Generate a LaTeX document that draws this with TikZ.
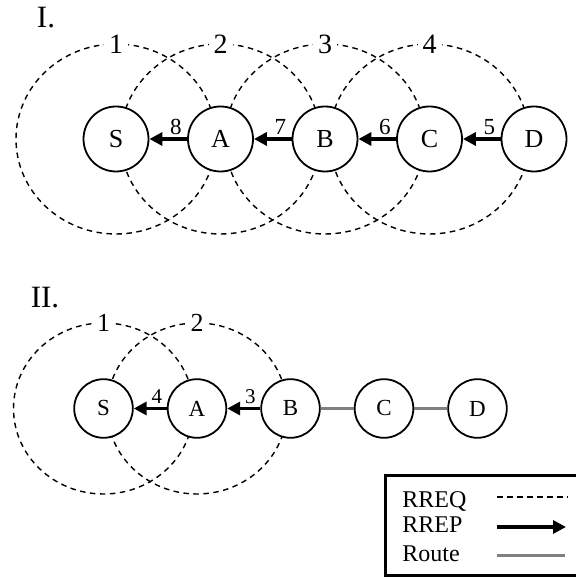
\documentclass[tikz,border=0pt]{standalone}
\usepackage{fontspec}
\setmainfont{Liberation Serif}
\usepackage{tikz}
\usetikzlibrary{arrows.meta}
\tikzset{station/.style={shape=circle,draw,fill=white,line width=0.9pt,minimum size=32.5pt,inner sep=0pt,font=\fontsize{13}{15}\selectfont},
	station2/.style={station,minimum size=29.3pt,font=\fontsize{11.5}{13}\selectfont},
	rreq/.style={dash pattern=on 2.75pt off 2.25pt,line width=0.7pt},
	rrep/.style={line width=1.7pt,-{Triangle[length=6.5pt,width=6.5pt]}},
	route/.style={line width=1.5pt,black!50},
	hoplabel/.style={above,pos=0.3,inner sep=1.5pt,font=\fontsize{11.5}{13}\selectfont},
	rangelabel/.style={fill=white,inner sep=2.5pt,font=\fontsize{14}{16}\selectfont},
	legendtext/.style={anchor=base west,inner sep=0pt,font=\fontsize{12}{14}\selectfont}}

\begin{document}
\begin{tikzpicture}[x=0.5pt,y=0.5pt]
	\useasboundingbox (0,0) rectangle (576,577);
	%
	\node[font=\fontsize{15.5}{17}\selectfont] (partI) at (46,559) {I.};
	\foreach \x/\n in {116/1,220.5/2,325/3,429.5/4} {
		\draw[rreq] (\x,438) ellipse (100 and 95);
		\node[rangelabel] at (\x,533) {\n};
	}
	\node[station] (S1) at (116,438) {S};
	\node[station] (A1) at (220.5,438) {A};
	\node[station] (B1) at (325,438) {B};
	\node[station] (C1) at (429.5,438) {C};
	\node[station] (D1) at (534,438) {D};
	%
	\draw[rrep] (A1) -- node[hoplabel]{8} (S1);
	\draw[rrep] (B1) -- node[hoplabel]{7} (A1);
	\draw[rrep] (C1) -- node[hoplabel]{6} (B1);
	\draw[rrep] (D1) -- node[hoplabel]{5} (C1);
	%
	\node[font=\fontsize{15.5}{17}\selectfont] (partII) at (45,279) {II.};
	\foreach \x/\n in {103.5/1,197/2} {
		\draw[rreq] (\x,168.5) ellipse (90 and 85.5);
		\node[rangelabel,font=\fontsize{13}{15}\selectfont] at (\x,254) {\n};
	}
	\node[station2] (S2) at (103.5,168.5) {S};
	\node[station2] (A2) at (197,168.5) {A};
	\node[station2] (B2) at (290.5,168.5) {B};
	\node[station2] (C2) at (384,168.5) {C};
	\node[station2] (D2) at (477.5,168.5) {D};
	%
	\draw[rrep] (A2) -- node[hoplabel,font=\fontsize{10.5}{12}\selectfont]{4} (S2);
	\draw[rrep] (B2) -- node[hoplabel,font=\fontsize{10.5}{12}\selectfont]{3} (A2);
	\draw[route] (B2) -- (C2);
	\draw[route] (C2) -- (D2);
	%
	% legend
	\draw[line width=1.5pt] (385,1) rectangle (600,101);
	\node[legendtext] (lreq) at (402,69) {RREQ};
	\node[legendtext] (lrep) at (402,44) {RREP};
	\node[legendtext] (lroute) at (402,16) {Route};
	\coordinate (reqa) at (497,80);
	\coordinate (reqb) at (568,80);
	\coordinate (repa) at (497,50);
	\coordinate (repb) at (566,50);
	\coordinate (routea) at (497,21);
	\coordinate (routeb) at (565,21);
	\draw[rreq] (reqa) -- (reqb);
	\draw[rrep] (repa) -- (repb);
	\draw[route] (routea) -- (routeb);
\end{tikzpicture}
\end{document}
